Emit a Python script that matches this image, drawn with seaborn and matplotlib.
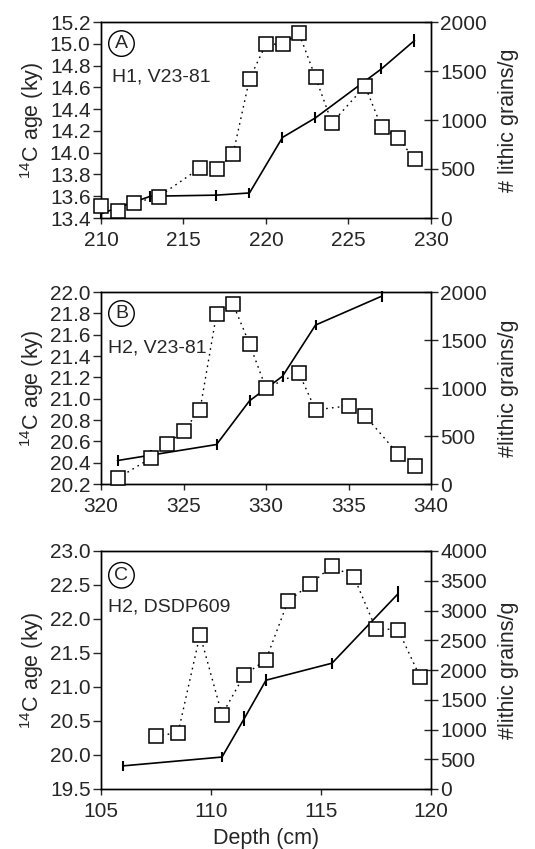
import matplotlib
matplotlib.use("Agg")
import matplotlib.pyplot as plt
import seaborn as sns
import pandas as pd
import numpy as np

# ---------------- data ----------------
# Panel A: H1, V23-81
a_age_depth = [210, 213, 217, 219, 221, 223, 227, 229]
a_age = [13.44, 13.60, 13.61, 13.63, 14.14, 14.32, 14.77, 15.03]
a_age_err = [0.05, 0.05, 0.05, 0.05, 0.05, 0.05, 0.05, 0.06]
a_lith_depth = [210, 211, 212, 213.5, 216, 217, 218, 219, 220, 221, 222, 223, 224, 226, 227, 228, 229]
a_lith = [126, 68, 154, 219, 509, 496, 650, 1419, 1774, 1774, 1884, 1436, 971, 1347, 930, 820, 598]

# Panel B: H2, V23-81
b_age_depth = [321, 323, 327, 329, 331, 333, 337]
b_age = [20.42, 20.47, 20.57, 20.98, 21.21, 21.69, 21.96]
b_age_err = [0.05, 0.05, 0.05, 0.05, 0.05, 0.05, 0.05]
b_lith_depth = [321, 323, 324, 325, 326, 327, 328, 329, 330, 332, 333, 335, 336, 338, 339]
b_lith = [59, 268, 414, 553, 772, 1770, 1875, 1461, 998, 1155, 772, 814, 713, 313, 188]

# Panel C: H2, DSDP609
c_age_depth = [106, 110.5, 111.5, 112.5, 115.5, 118.5]
c_age = [19.84, 19.97, 20.53, 21.10, 21.35, 22.37]
c_age_err = [0.07, 0.08, 0.11, 0.09, 0.08, 0.12]
c_lith_depth = [107.5, 108.5, 109.5, 110.5, 111.5, 112.5, 113.5, 114.5, 115.5, 116.5, 117.5, 118.5, 119.5]
c_lith = [899, 938, 2596, 1247, 1910, 2174, 3157, 3438, 3747, 3562, 2691, 2680, 1888]

panel_letters = ["A", "B", "C"]
panel_titles = ["H1, V23-81", "H2, V23-81", "H2, DSDP609"]
right_labels = ["# lithic grains/g", "#lithic grains/g", "#lithic grains/g"]
left_label = r"$^{14}$C age (ky)"
x_label = "Depth (cm)"

xlims = [(210, 230), (320, 340), (105, 120)]
xticks = [[210, 215, 220, 225, 230], [320, 325, 330, 335, 340], [105, 110, 115, 120]]
ylims = [(13.4, 15.2), (20.2, 22.0), (19.5, 23.0)]
ysteps = [0.2, 0.2, 0.5]
y2lims = [(0, 2000), (0, 2000), (0, 4000)]
y2step = 500

# ---------------- style ----------------
sns.set_theme(style="ticks")
plt.rcParams["font.family"] = ["Liberation Sans", "DejaVu Sans"]
plt.rcParams["mathtext.fontset"] = "custom"
plt.rcParams["mathtext.rm"] = "Liberation Sans"
plt.rcParams["mathtext.it"] = "Liberation Sans:italic"
plt.rcParams["axes.linewidth"] = 1.0

fig = plt.figure(figsize=(5.35, 8.49), dpi=100)
W, H = 535.0, 849.0
boxes = [(101, 22, 431, 218), (101, 292, 431, 484), (101, 551, 431, 789)]  # left, top, right, bottom in px
text_pos = [((0.033, 0.718), (0.062, 0.890)),
            ((0.022, 0.708), (0.062, 0.888)),
            ((0.022, 0.765), (0.062, 0.898))]

panels = [
    (a_age_depth, a_age, a_age_err, a_lith_depth, a_lith),
    (b_age_depth, b_age, b_age_err, b_lith_depth, b_lith),
    (c_age_depth, c_age, c_age_err, c_lith_depth, c_lith),
]

FS_TICK = 15
FS_LABEL = 15.5
FS_TEXT = 14

for i, (ad, av, ae, ld, lv) in enumerate(panels):
    l, t, r, b = boxes[i]
    ax = fig.add_axes([l / W, 1 - b / H, (r - l) / W, (b - t) / H])
    df_age = pd.DataFrame({"depth": ad, "age": av, "err": ae})
    df_lith = pd.DataFrame({"depth": ld, "lith": lv})

    sns.lineplot(data=df_age, x="depth", y="age", ax=ax, color="black",
                 linewidth=1.2, sort=False, estimator=None, clip_on=False)
    ax.errorbar(df_age["depth"], df_age["age"], yerr=df_age["err"], fmt="none",
                ecolor="black", elinewidth=1.5, capsize=0, clip_on=False)

    ax2 = ax.twinx()
    sns.lineplot(data=df_lith, x="depth", y="lith", ax=ax2, color="black",
                 linewidth=1.0, linestyle=(0, (1.2, 3.0)), marker="s", markersize=9.5,
                 markerfacecolor="white", markeredgecolor="black", markeredgewidth=1.1,
                 sort=False, estimator=None, clip_on=False, zorder=5)

    ax.set_xlim(*xlims[i])
    ax.set_xticks(xticks[i])
    ax.set_ylim(*ylims[i])
    lo, hi = ylims[i]
    n = int(round((hi - lo) / ysteps[i]))
    yt = [lo + k * ysteps[i] for k in range(n + 1)]
    ax.set_yticks(yt)
    ax.set_yticklabels([f"{v:.1f}" for v in yt])
    ax2.set_ylim(*y2lims[i])
    ax2.set_yticks(list(range(y2lims[i][0], y2lims[i][1] + 1, y2step)))

    ax.set_ylabel(left_label, fontsize=FS_LABEL, labelpad=3)
    ax2.set_ylabel(right_labels[i], fontsize=FS_LABEL, labelpad=8)
    if i == 2:
        ax.set_xlabel(x_label, fontsize=FS_LABEL, labelpad=5)
    else:
        ax.set_xlabel("")

    ax.tick_params(axis="y", direction="out", length=6, width=1.0, labelsize=FS_TICK, pad=1.5)
    ax.tick_params(axis="x", direction="out", length=4.5, width=1.0, labelsize=FS_TICK, pad=5)
    ax2.tick_params(axis="y", direction="inout", length=10, width=1.0, labelsize=FS_TICK, pad=1.5)
    for s in ax.spines.values():
        s.set_linewidth(1.0)
        s.set_color("black")
    for s in ax2.spines.values():
        s.set_linewidth(1.0)
        s.set_color("black")

    (tx, ty), (cx, cy) = text_pos[i]
    ax.text(tx, ty, panel_titles[i], transform=ax.transAxes, fontsize=FS_TEXT,
            ha="left", va="center")
    ax.text(cx, cy, panel_letters[i], transform=ax.transAxes, fontsize=FS_TEXT,
            ha="center", va="center",
            bbox=dict(boxstyle="circle,pad=0.22", fc="white", ec="black", lw=1.0))

fig.savefig("out.png", dpi=100)
